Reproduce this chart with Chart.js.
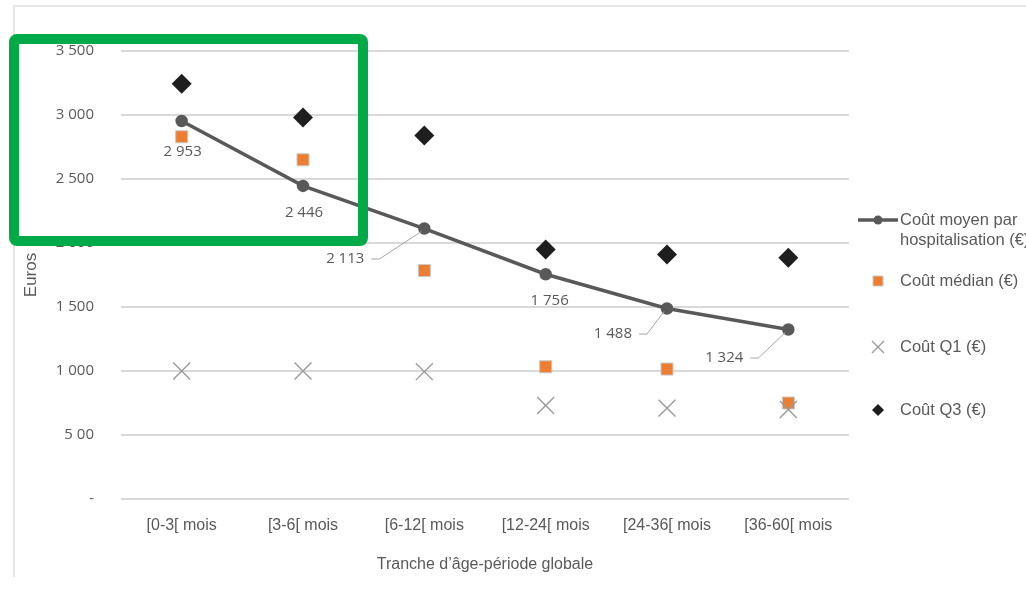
<!DOCTYPE html>
<html lang="fr">
<head>
<meta charset="utf-8">
<title>Coût d'hospitalisation par tranche d'âge</title>
<script src="https://cdn.jsdelivr.net/npm/chart.js@4.4.1/dist/chart.umd.min.js"></script>
<style>
  html, body { margin: 0; padding: 0; background: #ffffff; }
  #wrap { width: 1026px; height: 593px; position: relative; }
</style>
</head>
<body>
<div id="wrap"><canvas id="chart" width="1026" height="593"></canvas></div>
<script>
// Tranches d'âge
const categories = ['[0-3[ mois', '[3-6[ mois', '[6-12[ mois', '[12-24[ mois', '[24-36[ mois', '[36-60[ mois'];

// Coûts en euros
const coutMoyen  = [2953, 2446, 2113, 1756, 1488, 1324];
const coutMedian = [2830, 2650, 1785, 1033, 1015, 750];
const coutQ1     = [1000, 1000, 995, 730, 710, 700];
const coutQ3     = [3245, 2980, 2840, 1950, 1910, 1885];

// Graduations de l'axe des ordonnées
const yTickValues = [0, 500, 1000, 1500, 2000, 2500, 3000, 3500];
const yTickLabels = ['-', '5 00', '1 000', '1 500', '2 000', '2 500', '3 000', '3 500'];

const seriesNames = ['Coût moyen par hospitalisation (€)', 'Coût médian (€)', 'Coût Q1 (€)', 'Coût Q3 (€)'];

const GREY_TEXT = '#595959';
const fmt = v => String(v).replace(/\B(?=(\d{3})+(?!\d))/g, ' ');

// Étiquettes de valeur du coût moyen, avec traits de rappel
const meanLabelPlugin = {
  id: 'meanLabels',
  afterDatasetsDraw(chart) {
    const meta = chart.getDatasetMeta(0);
    const ctx = chart.ctx;
    // placement relatif au point : [dx, dy, alignement, trait de rappel]
    const place = [
      [1, 31, 'center', false],
      [1, 27, 'center', false],
      [-60, 30, 'right', true],
      [4, 27, 'center', false],
      [-35, 25, 'right', true],
      [-45, 28, 'right', true]
    ];
    ctx.save();
    ctx.font = '15px "Open Sans", sans-serif';
    ctx.fillStyle = GREY_TEXT;
    ctx.textBaseline = 'middle';
    meta.data.forEach((pt, i) => {
      const [dx, dy, align, leader] = place[i];
      const tx = pt.x + dx, ty = pt.y + dy;
      ctx.textAlign = align;
      ctx.fillText(fmt(chart.data.datasets[0].data[i]), tx, ty);
      if (leader) {
        ctx.beginPath();
        ctx.strokeStyle = '#a6a6a6';
        ctx.lineWidth = 1;
        ctx.moveTo(tx + 7, ty + 0.5);
        ctx.lineTo(tx + 15, ty + 0.5);
        ctx.lineTo(pt.x - 3, pt.y + 3);
        ctx.stroke();
      }
    });
    ctx.restore();
  }
};

// Cadre gris clair autour du graphique
const framePlugin = {
  id: 'frame',
  beforeDraw(chart) {
    const ctx = chart.ctx;
    ctx.save();
    ctx.fillStyle = '#ffffff';
    ctx.fillRect(0, 0, chart.width, chart.height);
    ctx.strokeStyle = '#e6e6e6';
    ctx.lineWidth = 2;
    ctx.beginPath();
    ctx.moveTo(14, 577);
    ctx.lineTo(14, 6);
    ctx.lineTo(chart.width, 6);
    ctx.stroke();
    ctx.restore();
  }
};

// Légende à droite
const legendPlugin = {
  id: 'sideLegend',
  afterDraw(chart) {
    const ctx = chart.ctx;
    const ds = chart.data.datasets;
    const iconX = 878, textX = 900;
    const rows = [220, 281, 347, 410];
    ctx.save();
    ctx.font = '16.5px "Liberation Sans", Arial, sans-serif';
    ctx.fillStyle = GREY_TEXT;
    ctx.textAlign = 'left';
    ctx.textBaseline = 'middle';
    ds.forEach((d, i) => {
      const y = rows[i];
      // icône
      if (i === 0) {
        ctx.strokeStyle = d.borderColor; ctx.lineWidth = 3.5;
        ctx.beginPath(); ctx.moveTo(858, y); ctx.lineTo(898, y); ctx.stroke();
        ctx.fillStyle = d.pointBackgroundColor;
        ctx.beginPath(); ctx.arc(iconX, y, 4.5, 0, Math.PI * 2); ctx.fill();
      } else if (i === 1) {
        ctx.fillStyle = d.pointBackgroundColor;
        ctx.fillRect(iconX - 5, y - 5, 10, 10);
        ctx.strokeStyle = '#c9c9c9'; ctx.lineWidth = 1;
        ctx.strokeRect(iconX - 5, y - 5, 10, 10);
      } else if (i === 2) {
        ctx.strokeStyle = d.pointBorderColor; ctx.lineWidth = 1.3;
        ctx.beginPath();
        ctx.moveTo(iconX - 6, y - 6); ctx.lineTo(iconX + 6, y + 6);
        ctx.moveTo(iconX + 6, y - 6); ctx.lineTo(iconX - 6, y + 6);
        ctx.stroke();
      } else {
        ctx.fillStyle = d.pointBackgroundColor;
        ctx.beginPath();
        ctx.moveTo(iconX, y - 6); ctx.lineTo(iconX + 6, y);
        ctx.lineTo(iconX, y + 6); ctx.lineTo(iconX - 6, y);
        ctx.closePath(); ctx.fill();
      }
      // texte : au plus deux lignes, la seconde peut dépasser le bord
      ctx.fillStyle = GREY_TEXT;
      const words = d.label.split(' ');
      let first = '';
      let k = 0;
      while (k < words.length) {
        const t = first ? first + ' ' + words[k] : words[k];
        if (first && ctx.measureText(t).width > 126) break;
        first = t; k++;
      }
      const lines = [first];
      if (k < words.length) lines.push(words.slice(k).join(' '));
      lines.forEach((l, n) => ctx.fillText(l, textX, y + n * 20));
    });
    ctx.restore();
  }
};

// Encadré vert de mise en évidence
const highlightPlugin = {
  id: 'highlight',
  afterDraw(chart) {
    const ctx = chart.ctx;
    ctx.save();
    ctx.strokeStyle = '#00AB47';
    ctx.lineWidth = 10;
    ctx.lineJoin = 'round';
    ctx.beginPath();
    if (ctx.roundRect) ctx.roundRect(14, 39, 349, 202, 3);
    else ctx.rect(14, 39, 349, 202);
    ctx.stroke();
    ctx.restore();
  }
};

new Chart(document.getElementById('chart'), {
  type: 'line',
  data: {
    labels: categories,
    datasets: [
      {
        label: seriesNames[0],
        data: coutMoyen,
        borderColor: '#595959',
        borderWidth: 3.5,
        pointBackgroundColor: '#595959',
        pointBorderColor: '#595959',
        pointRadius: 4.5,
        pointStyle: 'circle',
        tension: 0,
        order: 3
      },
      {
        label: seriesNames[1],
        data: coutMedian,
        showLine: false,
        pointStyle: 'rect',
        pointRadius: 8.5,
        pointBackgroundColor: '#ED7D31',
        pointBorderColor: '#c9c9c9',
        pointBorderWidth: 1,
        order: 2
      },
      {
        label: seriesNames[2],
        data: coutQ1,
        showLine: false,
        pointStyle: 'crossRot',
        pointRadius: 12,
        pointBorderColor: '#9a9a9a',
        pointBackgroundColor: '#9a9a9a',
        pointBorderWidth: 1.4,
        order: 1
      },
      {
        label: seriesNames[3],
        data: coutQ3,
        showLine: false,
        pointStyle: 'rectRot',
        pointRadius: 10,
        pointBackgroundColor: '#1e1e1e',
        pointBorderColor: '#1e1e1e',
        pointBorderWidth: 0,
        order: 0
      }
    ]
  },
  options: {
    responsive: false,
    animation: false,
    devicePixelRatio: 1,
    layout: { padding: { top: 51, right: 177, left: 0, bottom: 0 } },
    plugins: {
      legend: { display: false },
      tooltip: { enabled: false }
    },
    scales: {
      x: {
        offset: true,
        grid: { display: false, drawTicks: false },
        border: { display: false },
        ticks: {
          color: GREY_TEXT,
          padding: 17,
          font: { family: '"Liberation Sans", Arial, sans-serif', size: 16 }
        },
        title: {
          display: true,
          text: 'Tranche d’âge-période globale',
          color: GREY_TEXT,
          font: { family: '"Liberation Sans", Arial, sans-serif', size: 16 },
          padding: { top: 0, bottom: 19 }
        },
        afterFit: s => { s.height = 94; }
      },
      y: {
        min: 0,
        max: 3500,
        afterBuildTicks: s => { s.ticks = yTickValues.map(v => ({ value: v })); },
        grid: { color: '#d9d9d9', lineWidth: 2, drawTicks: false },
        border: { display: false },
        ticks: {
          color: GREY_TEXT,
          padding: 27,
          font: { family: '"Open Sans", sans-serif', size: 15 },
          callback: v => yTickLabels[yTickValues.indexOf(v)]
        },
        title: {
          display: true,
          text: 'Euros',
          color: GREY_TEXT,
          font: { family: '"Liberation Sans", Arial, sans-serif', size: 17 },
          padding: { top: 21, bottom: 0 }
        },
        afterFit: s => { s.width = 121; }
      }
    }
  },
  plugins: [framePlugin, meanLabelPlugin, legendPlugin, highlightPlugin]
});
</script>
</body>
</html>
